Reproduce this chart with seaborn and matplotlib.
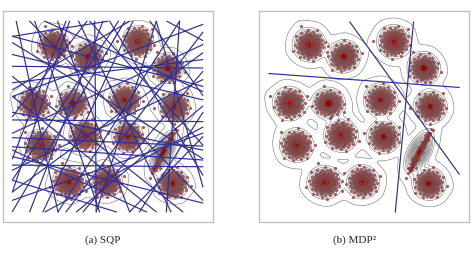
import numpy as np
import pandas as pd
import matplotlib
matplotlib.use("Agg")
import matplotlib.pyplot as plt
import seaborn as sns

sns.set_style("white")
plt.rcParams['font.family'] = ['Liberation Serif', 'DejaVu Serif']

# cluster centres (frame coordinates 0-100), spread and orientation
cx = [24.0, 40.4, 64.2, 78.5, 14.6, 33.1, 57.9, 81.6, 39.0, 59.4, 17.9, 76.3, 31.3, 49.2, 80.9]
cy = [84.0, 78.5, 85.5, 72.9, 56.2, 56.2, 57.9, 54.7, 41.2, 40.4, 36.4, 33.2, 18.8, 19.1, 18.3]
sx = [2.8, 2.8, 2.8, 2.6, 2.8, 2.7, 2.8, 2.7, 2.8, 2.7, 2.8, 4.6, 3.0, 2.8, 2.7]
sy = [2.8, 2.5, 2.8, 2.6, 2.8, 2.4, 2.7, 2.7, 2.8, 2.7, 2.8, 0.55, 2.8, 2.8, 2.7]
ang = [10, 40, 75, 20, 55, 0, 30, 80, 15, 65, 35, 62, 5, 50, 25]

# SQP hyperplanes (x0, y0, x1, y1)
sqp_lines = [
    (4.5, 73.8, 95.2, 73.0), (4.5, 48.4, 95.2, 47.6), (4.5, 27.0, 95.2, 26.2),
    (4.5, 35.7, 95.2, 29.4), (6.3, 95.2, 26.2, 4.8), (15.1, 95.2, 46.0, 4.8),
    (19.8, 95.2, 95.2, 61.9), (31.7, 95.2, 4.5, 14.3), (60.3, 95.2, 4.5, 62.7),
    (95.2, 93.7, 4.5, 59.5), (84.1, 95.2, 26.2, 4.8), (73.0, 95.2, 44.4, 4.8),
    (41.3, 95.2, 95.2, 36.5), (43.7, 95.2, 44.4, 4.8), (4.5, 14.3, 95.2, 80.2),
    (4.5, 10.3, 95.2, 42.1), (47.6, 95.2, 12.7, 4.8), (50.8, 95.2, 95.2, 22.2),
    (61.9, 95.2, 19.0, 4.8), (4.5, 79.4, 95.2, 57.9), (4.5, 69.0, 85.7, 4.8),
    (4.5, 42.1, 95.2, 84.1), (4.5, 34.1, 68.3, 4.8), (4.5, 24.6, 95.2, 67.5),
    (4.5, 19.8, 54.0, 4.8), (12.7, 95.2, 95.2, 10.3), (95.2, 71.4, 38.1, 4.8),
    (95.2, 64.3, 4.5, 88.0), (95.2, 40.5, 60.3, 4.8), (95.2, 34.1, 4.5, 52.0),
    (95.2, 16.7, 73.0, 95.2), (77.8, 4.8, 84.1, 95.2), (4.5, 59.5, 73.0, 4.8),
    (26.0, 95.2, 60.3, 4.8), (4.5, 88.0, 50.0, 95.2), (35.0, 4.8, 95.2, 55.0),
    (4.5, 40.0, 95.2, 36.0), (70.0, 95.2, 95.2, 60.0), (4.5, 30.0, 30.0, 95.2),
    (20.0, 4.8, 95.2, 45.0), (55.0, 95.2, 4.5, 20.0), (4.5, 85.0, 95.2, 30.0),
    (95.2, 90.0, 30.0, 4.8), (36.0, 95.2, 80.0, 4.8), (4.5, 50.0, 40.0, 95.2),
    (65.0, 4.8, 95.2, 52.0), (4.5, 5.0, 58.0, 95.2), (95.2, 77.0, 4.5, 66.0),
    (4.5, 31.0, 95.2, 9.0), (78.0, 95.2, 95.2, 86.0),
]

# MDP^2 hyperplanes
mdp_lines = [
    (4.7, 70.4, 95.4, 63.8),
    (43.2, 94.9, 95.4, 22.6),
    (73.6, 94.9, 64.9, 4.7),
]

# deterministic gaussian-like pattern for the sample clouds
n_pts = 240
idx = np.arange(n_pts)
rad = np.sqrt(-2 * np.log(1 - (idx + 0.5) / n_pts))
theta = idx * 2.39996
base = np.column_stack([rad * np.cos(theta), rad * np.sin(theta)])

frames = []
for k in range(len(cx)):
    a = np.deg2rad(ang[k])
    rot = np.array([[np.cos(a), -np.sin(a)], [np.sin(a), np.cos(a)]])
    pts = (base * [sx[k], sy[k]]) @ rot.T + [cx[k], cy[k]]
    frames.append(pd.DataFrame({"x": pts[:, 0], "y": pts[:, 1]}))
df = pd.concat(frames, ignore_index=True)

fig = plt.figure(figsize=(4.74, 2.57), dpi=100)
ax_a = fig.add_axes([0.0063, 0.136, 0.443, 0.821])
ax_b = fig.add_axes([0.5464, 0.136, 0.443, 0.821])


def draw_panel(ax, lines, bw, thresh):
    sns.kdeplot(data=df, x="x", y="y", ax=ax, levels=16, thresh=thresh,
                bw_adjust=bw, color="#747474", linewidths=0.4)
    sns.scatterplot(data=df, x="x", y="y", ax=ax, s=5, color="#930c0c",
                    alpha=0.7, linewidth=0, legend=False)
    for x0, y0, x1, y1 in lines:
        ax.plot([x0, x1], [y0, y1], color="#2e2e96", lw=0.85)
    ax.set_xlim(0, 100)
    ax.set_ylim(0, 100)
    ax.set_xticks([])
    ax.set_yticks([])
    ax.set_xlabel("")
    ax.set_ylabel("")
    for sp in ax.spines.values():
        sp.set_color("#bdbdbd")
        sp.set_linewidth(0.9)


draw_panel(ax_a, sqp_lines, 0.33, 0.005)
draw_panel(ax_b, mdp_lines, 0.42, 0.004)

fig.text(0.217, 0.066, "(a) SQP", ha="center", va="center", fontsize=8)
fig.text(0.749, 0.066, "(b) MDP²", ha="center", va="center", fontsize=8)

fig.savefig("out.png", dpi=100)
